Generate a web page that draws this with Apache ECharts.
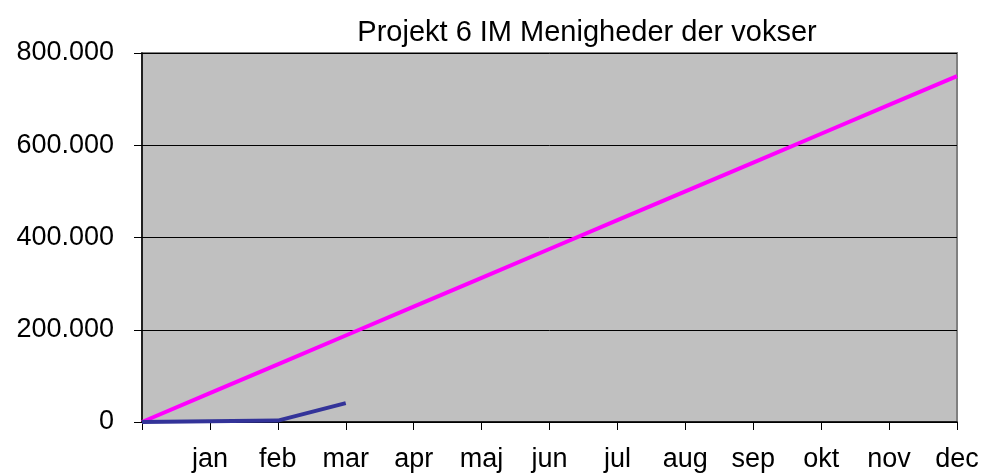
<!DOCTYPE html>
<html><head><meta charset="utf-8">
<script src="https://cdn.jsdelivr.net/npm/echarts@6/dist/echarts.min.js"></script>
<style>html,body{margin:0;padding:0;background:#fff}#c{width:984px;height:473px}</style>
</head><body><div id="c"></div>
<script>
const categories = ['', 'jan', 'feb', 'mar', 'apr', 'maj', 'jun', 'jul', 'aug', 'sep', 'okt', 'nov', 'dec'];
const budget = [0, 62500, 125000, 187500, 250000, 312500, 375000, 437500, 500000, 562500, 625000, 687500, 750000];
const actual = [0, 1500, 3000, 41000];
const yTicks = { min: 0, max: 800000, interval: 200000 };

function fmt(v) { return String(v).replace(/\B(?=(\d{3})+(?!\d))/g, '.'); }

const chart = echarts.init(document.getElementById('c'));
chart.setOption({
  animation: false,
  backgroundColor: '#ffffff',
  title: {
    text: 'Projekt 6 IM Menigheder der vokser',
    left: 582, textAlign: 'center', top: 13,
    textStyle: { fontFamily: 'Liberation Sans', fontSize: 29, fontWeight: 'normal', color: '#000' }
  },
  grid: { left: 142, right: 27, top: 53, bottom: 50, show: true, backgroundColor: '#c0c0c0', borderColor: '#808080', borderWidth: 2 },
  xAxis: {
    type: 'category', data: categories, boundaryGap: false,
    axisLine: { lineStyle: { color: '#000', width: 1.5 } },
    axisTick: { show: true, length: 8, lineStyle: { color: '#000' }, alignWithLabel: true },
    axisLabel: { fontFamily: 'Liberation Sans', fontSize: 27, color: '#000', margin: 24, interval: 0 },
    splitLine: { show: false }
  },
  yAxis: {
    type: 'value', min: yTicks.min, max: yTicks.max, interval: yTicks.interval,
    axisLine: { show: true, lineStyle: { color: '#000', width: 1.5 } },
    axisTick: { show: true, length: 8, lineStyle: { color: '#000' } },
    axisLabel: { fontFamily: 'Liberation Sans', fontSize: 27, color: '#000', margin: 28, formatter: fmt },
    splitLine: { show: true, lineStyle: { color: '#000', width: 1 } }
  },
  series: [
    { type: 'line', data: budget, symbol: 'none', lineStyle: { color: '#ff00ff', width: 4 }, z: 3 },
    { type: 'line', data: actual, symbol: 'none', lineStyle: { color: '#333399', width: 4 }, z: 4 }
  ]
});
</script></body></html>
